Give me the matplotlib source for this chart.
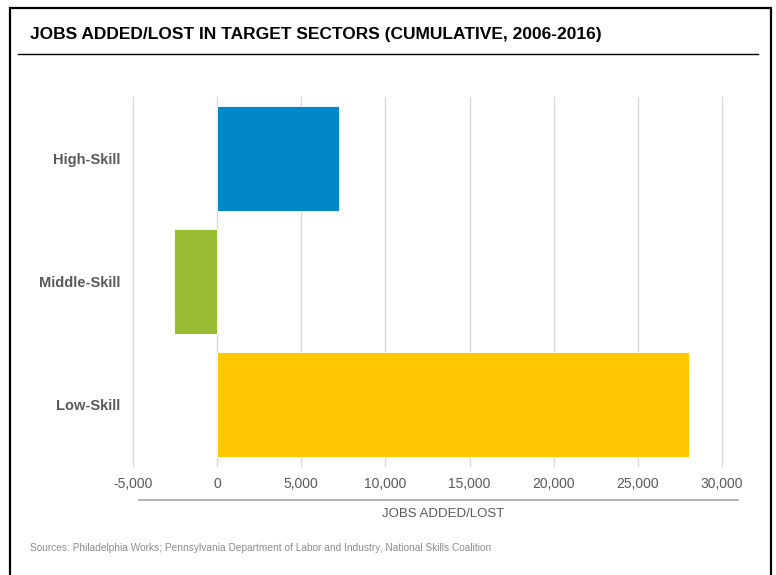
import numpy as np
import matplotlib
matplotlib.use("Agg")
import matplotlib.pyplot as plt
import matplotlib.patches as patches
from matplotlib.lines import Line2D
from matplotlib.ticker import FuncFormatter

# ==============================
# Data
# ==============================
categories = ['High-Skill', 'Middle-Skill', 'Low-Skill']
jobs_changed = [7260, -2550, 28050]
bar_colors = ['#0088C8', '#98BC34', '#FFC800']
x_ticks = [-5000, 0, 5000, 10000, 15000, 20000, 25000, 30000]

plt.rcParams['font.family'] = ['Liberation Sans', 'DejaVu Sans']

fig = plt.figure(figsize=(7.76, 5.75), dpi=100)
fig.patch.set_facecolor('white')

# outer frame (open at the bottom edge of the image)
frame = patches.Rectangle((10 / 776, -0.05), 761 / 776, 1.05 - 8 / 575,
                          transform=fig.transFigure, facecolor='none',
                          edgecolor='black', linewidth=1.6, zorder=1000)
fig.patches.append(frame)

# title + rule
fig.text(30 / 776, 1 - 34 / 575, 'JOBS ADDED/LOST IN TARGET SECTORS (CUMULATIVE, 2006-2016)',
         fontsize=12.5, fontweight='bold', color='black', ha='left', va='center')
fig.add_artist(Line2D([18 / 776, 758 / 776], [1 - 54 / 575, 1 - 54 / 575],
                      transform=fig.transFigure, color='black', linewidth=1.0))

# ==============================
# Bars
# ==============================
ax = fig.add_axes([133 / 776, 1 - 466 / 575, 589 / 776, 369 / 575])
y = np.arange(len(categories))
ax.barh(y, jobs_changed, height=0.86, color=bar_colors,
        edgecolor='white', linewidth=0.6, zorder=3)

ax.set_xlim(x_ticks[0], x_ticks[-1])
ax.set_ylim(len(categories) - 0.5, -0.5)
ax.set_xticks(x_ticks)
ax.xaxis.set_major_formatter(FuncFormatter(lambda v, p: f'{v:,.0f}'))
ax.set_yticks(y)
ax.set_yticklabels(categories, fontweight='bold')
ax.grid(axis='x', color='#d9d9d9', linewidth=1.0, zorder=0)
for gl in ax.get_xgridlines():
    gl.set_clip_on(False)
ax.tick_params(axis='x', length=0, pad=8, labelsize=10, labelcolor='#595959')
ax.tick_params(axis='y', length=0, pad=9, labelsize=10.5, labelcolor='#595959')
for s in ax.spines.values():
    s.set_visible(False)

# axis title with rule above it
fig.add_artist(Line2D([139 / 776, 738 / 776], [1 - 500 / 575, 1 - 500 / 575],
                      transform=fig.transFigure, color='#a6a6a6', linewidth=1.2))
fig.text(443 / 776, 1 - 514 / 575, 'JOBS ADDED/LOST', fontsize=9.5,
         color='#595959', ha='center', va='center')

fig.text(30 / 776, 1 - 548 / 575,
         'Sources: Philadelphia Works; Pennsylvania Department of Labor and Industry, National Skills Coalition',
         fontsize=7.3, color='#8c8c8c', ha='left', va='center')

fig.savefig('out.png', dpi=100, facecolor='white')
